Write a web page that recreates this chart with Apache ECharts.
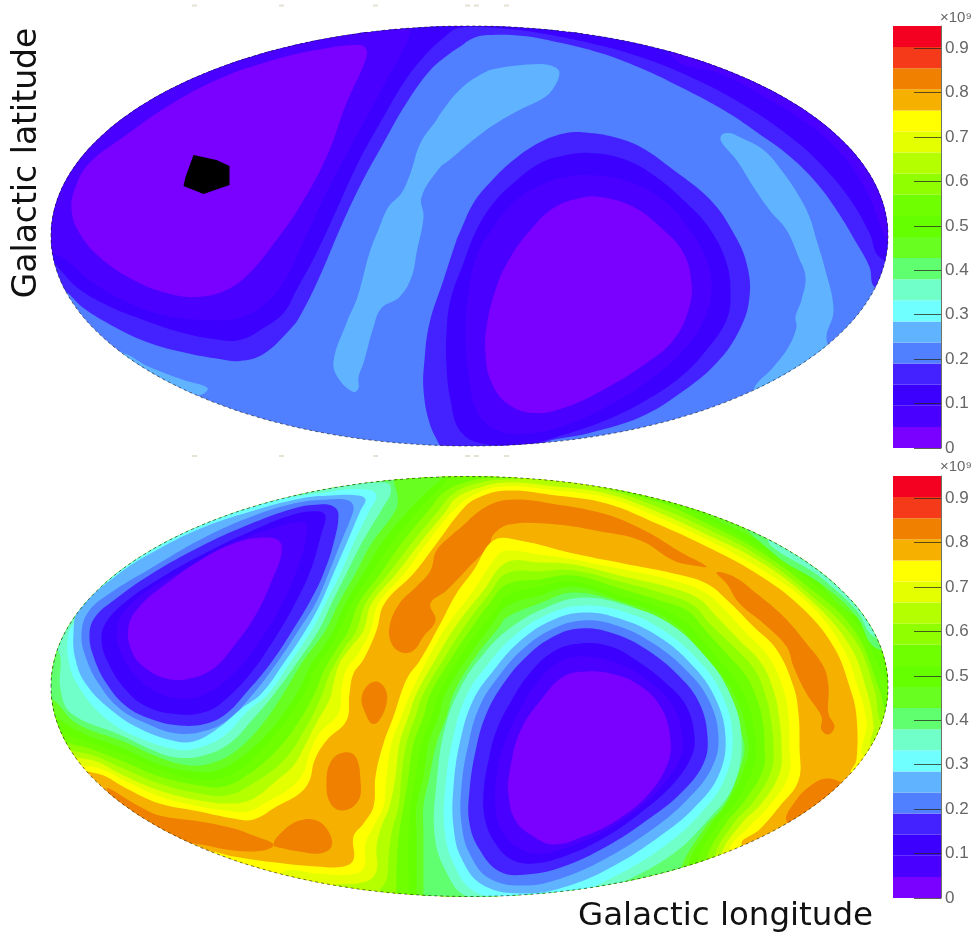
<!DOCTYPE html>
<html><head><meta charset="utf-8">
<style>html,body{margin:0;padding:0;background:#fff}#c{width:978px;height:938px}#c canvas{filter:blur(0.5px)}</style>
<script src="https://cdn.jsdelivr.net/npm/echarts@6/dist/echarts.min.js"></script>
</head><body><div id="c"></div>
<script>
// colour bar
const bandColors=['#7a00ff','#4a00ff','#3c00ff','#4422ff','#5080ff','#60b4ff','#70ffff','#70ffc8','#60ff70','#68ff20','#66ff00','#70ff00','#90ff00','#b4ff00','#e4ff00','#ffff00','#f5b000','#f08000','#f53a1a','#f40020'];
const bandStep=0.0475;
const barTicks=[0,0.1,0.2,0.3,0.4,0.5,0.6,0.7,0.8,0.9];
const mapHalfWidth=418.5, mapHalfHeight=210;
// top map contours, map units [x,y]
const t5a=[[-116,-156],[-130,-144],[-136,-126],[-123,-87],[-113,-64],[-108,-47],[-100,-17],[-90,9],[-81,29],[-68,43],[-59,63],[-49,93],[-33,116],[-30,121],[-10,146],[14,163],[30,168],[70,172],[85,169],[90,163],[84,148],[74,138],[50,126],[24,111],[0,93],[-20,76],[-30,68],[-48,39],[-46,19],[-53,-17],[-58,-41],[-70,-61],[-88,-72],[-96,-91],[-106,-127],[-111,-141],[-111,-152]];
const t5b=[[252,94],[267,76],[284,49],[300,26],[317,6],[329,-21],[336,-41],[332,-64],[326,-81],[327,-91],[319,-111],[304,-131],[284,-154],[290,-174],[370,-127],[357,-104],[364,-74],[355,-31],[347,-4],[340,19],[330,39],[314,63],[294,86],[270,99],[260,103],[252,101]];
const t5c=[[-350,-116],[-320,-131],[-286,-144],[-262,-152],[-270,-159],[-320,-151],[-360,-124]];
const t3a=[[-430,-45],[-406,-54],[-386,-72],[-353,-92],[-320,-107],[-283,-117],[-250,-123],[-230,-125],[-206,-118],[-180,-94],[-170,-81],[-150,-41],[-130,6],[-110,49],[-86,93],[-63,133],[-39,166],[-19,183],[-10,189],[4,198],[20,201],[54,200],[87,194],[131,183],[171,168],[211,149],[254,126],[287,104],[321,79],[347,53],[367,26],[387,-7],[400,-31],[405,-51],[430,-60],[430,220],[-430,220]];
const t3b=[[120,103],[97,103],[71,94],[44,76],[21,54],[4,33],[-10,3],[-13,-4],[-26,-44],[-40,-87],[-45,-124],[-46,-154],[-40,-187],[-30,-209],[-23,-224],[70,-224],[70,-209],[120,-197],[171,-181],[211,-157],[247,-127],[270,-94],[280,-61],[277,-27],[264,3],[241,36],[204,66],[171,89],[144,99]];
const t2a=[[-430,-20],[-416,-27],[-393,-51],[-363,-69],[-326,-84],[-290,-96],[-256,-103],[-230,-104],[-206,-92],[-186,-77],[-173,-54],[-153,-17],[-133,26],[-110,76],[-86,119],[-66,153],[-46,179],[-26,198],[-10,208],[37,207],[70,203],[120,193],[171,179],[221,159],[271,133],[321,99],[354,69],[381,36],[400,3],[410,-21],[440,-30],[430,220],[-430,220]];
const t2b=[[120,83],[97,81],[71,73],[44,53],[24,33],[7,6],[-6,-27],[-19,-64],[-23,-97],[-23,-131],[-19,-164],[-10,-194],[10,-207],[54,-209],[87,-201],[137,-184],[177,-164],[211,-141],[237,-114],[257,-84],[261,-57],[257,-27],[241,6],[217,33],[181,63],[151,78]];
const t1a=[[-430,-5],[-403,-24],[-376,-47],[-336,-69],[-296,-81],[-256,-84],[-230,-82],[-206,-69],[-189,-51],[-173,-21],[-153,23],[-130,69],[-106,113],[-83,156],[-61,198],[-60,213],[-60,225],[-430,225]];
const t1b=[[120,61],[97,59],[71,51],[44,33],[24,9],[7,-21],[-1,-57],[-4,-97],[-1,-137],[7,-174],[27,-194],[64,-197],[104,-186],[144,-167],[184,-141],[214,-114],[234,-84],[242,-54],[237,-24],[220,6],[197,33],[161,54]];
const t1c=[[204,178],[254,161],[304,134],[344,108],[377,76],[400,39],[412,8],[425,-14],[445,-14],[445,200],[204,215]];
const t0a=[[-103,186],[-110,191],[-153,186],[-203,174],[-253,156],[-303,129],[-346,99],[-380,73],[-394,49],[-398,26],[-390,3],[-370,-21],[-336,-44],[-303,-57],[-273,-61],[-243,-54],[-220,-37],[-193,-4],[-170,29],[-143,79],[-123,133],[-105,173]];
const t0b=[[131,39],[111,38],[84,28],[61,6],[41,-21],[27,-51],[17,-91],[16,-117],[21,-144],[37,-167],[64,-177],[97,-171],[137,-152],[177,-127],[204,-104],[219,-74],[222,-47],[214,-17],[194,6],[164,29]];
const maskedPatch=[[-276,81],[-253,76],[-240,70],[-240,51],[-266,42],[-286,50],[-284,59]];
// bottom map: peak blobs
const o1=[[-363,-102],[-330,-120],[-310,-129],[-270,-135],[-236,-142],[-216,-149],[-196,-158],[-206,-164],[-236,-164],[-263,-159],[-290,-154],[-336,-137]];
const o2=[[-196,-158],[-186,-144],[-170,-134],[-153,-134],[-141,-145],[-138,-160],[-150,-167],[-170,-165],[-186,-162]];
const o3=[[-126,-66],[-114,-70],[-109,-94],[-111,-114],[-126,-124],[-139,-117],[-143,-94],[-138,-74]];
const o4=[[-93,5],[-84,-3],[-83,-17],[-91,-35],[-98,-37],[-104,-27],[-108,-13],[-103,0]];
const o5=[[-68,34],[-78,43],[-80,60],[-70,83],[-53,100],[-39,116],[-33,136],[-16,153],[-10,158],[17,180],[44,187],[87,182],[137,172],[177,155],[210,135],[237,120],[224,121],[204,126],[171,146],[131,155],[87,162],[40,162],[24,152],[19,140],[0,120],[-23,96],[-39,83],[-34,66],[-46,50],[-56,36]];
const o6=[[247,114],[264,110],[287,93],[314,70],[337,43],[354,20],[359,0],[359,-27],[365,-40],[359,-48],[352,-43],[352,-30],[337,-7],[324,20],[317,40],[294,63],[270,83],[257,103]];
const o7=[[317,-135],[327,-113],[344,-97],[357,-92],[370,-95],[390,-107],[340,-147]];
// bottom map: north-west side contours
const a15=[[-430,-70],[-386,-84],[-366,-89],[-343,-102],[-310,-117],[-270,-125],[-236,-132],[-216,-133],[-193,-120],[-170,-107],[-160,-94],[-155,-74],[-143,-54],[-123,-34],[-120,-7],[-116,13],[-106,27],[-93,56],[-85,83],[-56,113],[-33,143],[-8,176],[7,188],[37,196],[87,191],[137,183],[187,163],[237,140],[287,113],[331,80],[364,40],[381,-3],[387,-30],[387,-73],[382,-88],[420,-110],[430,220],[-430,220]];
const a14=[[-430,-62],[-391,-78],[-370,-82],[-343,-95],[-310,-110],[-270,-120],[-236,-125],[-221,-125],[-200,-114],[-176,-99],[-165,-84],[-160,-67],[-150,-47],[-131,-27],[-128,-3],[-123,17],[-111,33],[-99,56],[-91,83],[-65,113],[-43,143],[-16,176],[7,193],[37,200],[87,196],[137,189],[187,170],[237,147],[287,120],[337,85],[372,41],[389,-3],[397,-37],[394,-70],[430,-80],[430,220],[-430,220]];
const a13=[[-430,-55],[-396,-70],[-373,-75],[-346,-89],[-310,-104],[-270,-114],[-236,-117],[-216,-112],[-193,-94],[-176,-79],[-165,-60],[-155,-40],[-140,-13],[-136,3],[-130,23],[-118,40],[-106,56],[-98,83],[-73,113],[-50,143],[-23,176],[-14,188],[7,198],[37,204],[87,200],[137,193],[187,175],[237,152],[287,127],[337,90],[379,43],[397,-3],[404,-40],[402,-60],[430,-70],[430,220],[-430,220]];
const a12=[[-430,-50],[-401,-63],[-376,-69],[-346,-82],[-310,-97],[-270,-107],[-243,-109],[-220,-99],[-186,-74],[-163,-40],[-148,-10],[-141,10],[-126,37],[-113,56],[-104,83],[-81,113],[-58,143],[-31,176],[-16,193],[7,203],[37,207],[87,205],[137,197],[187,180],[237,158],[287,132],[337,95],[385,47],[405,-3],[412,-37],[430,-45],[430,220],[-430,220]];
const a11=[[-430,-40],[-406,-55],[-380,-62],[-346,-75],[-310,-90],[-270,-99],[-246,-100],[-223,-89],[-193,-64],[-170,-34],[-155,-7],[-145,17],[-133,37],[-121,56],[-111,83],[-89,113],[-68,143],[-41,176],[-23,196],[7,207],[37,209],[70,212],[187,185],[237,163],[287,137],[337,101],[384,57],[410,-3],[417,-27],[430,-30],[430,220],[-430,220]];
const a10=[[-430,-30],[-409,-45],[-383,-55],[-346,-68],[-310,-83],[-273,-93],[-249,-92],[-226,-80],[-200,-55],[-180,-30],[-165,-7],[-153,20],[-141,37],[-130,56],[-118,83],[-98,113],[-78,143],[-51,176],[-30,198],[-13,213],[70,218],[137,207],[187,190],[237,168],[287,141],[337,108],[387,63],[417,6],[430,0],[430,220],[-430,220]];
const a9=[[-430,-15],[-414,-30],[-386,-47],[-346,-62],[-310,-78],[-276,-85],[-253,-84],[-230,-72],[-204,-49],[-186,-27],[-171,-4],[-158,23],[-148,37],[-136,56],[-124,83],[-106,113],[-88,143],[-61,176],[-39,198],[-23,213],[-20,226],[204,193],[237,172],[287,147],[337,115],[387,70],[430,70],[430,220],[-430,220]];
const edge8=[[270,176],[304,133],[354,101],[387,70],[404,40],[424,40],[430,190]];
const edge7=[[300,150],[354,107],[387,76],[404,50],[424,50],[430,190]];
const a8=[[-430,-13],[-417,-13],[-393,-37],[-346,-55],[-310,-71],[-280,-79],[-256,-76],[-233,-64],[-209,-40],[-186,-7],[-168,23],[-144,56],[-131,83],[-114,113],[-98,143],[-74,176],[-72,190],[-76,207],[-76,225],[-430,225]];
const a7=[[-430,45],[-411,35],[-409,-3],[-398,-27],[-350,-48],[-316,-64],[-293,-71],[-266,-69],[-240,-57],[-216,-32],[-195,-7],[-173,23],[-151,56],[-138,83],[-123,113],[-108,143],[-86,180],[-79,193],[-81,203],[-103,206],[-103,225],[-430,225]];
const a6=[[-430,95],[-393,72],[-401,53],[-401,26],[-391,0],[-366,-30],[-336,-49],[-293,-63],[-270,-61],[-245,-49],[-221,-24],[-201,-7],[-180,23],[-158,56],[-144,83],[-129,113],[-116,143],[-100,176],[-93,190],[-98,196],[-123,197],[-153,193],[-186,193],[-186,225],[-430,225]];
const a5=[[-391,76],[-396,53],[-394,27],[-384,3],[-359,-23],[-330,-42],[-293,-55],[-273,-54],[-249,-40],[-228,-22],[-208,-7],[-186,23],[-164,56],[-149,83],[-136,113],[-123,143],[-109,176],[-104,187],[-111,191],[-139,191],[-169,188],[-219,175],[-269,158],[-319,133],[-353,111]];
const a4=[[-116,180],[-121,186],[-141,187],[-176,183],[-223,168],[-269,147],[-319,118],[-360,93],[-381,75],[-388,53],[-384,30],[-371,3],[-350,-22],[-323,-37],[-293,-47],[-263,-44],[-240,-32],[-216,-7],[-193,23],[-171,56],[-154,83],[-141,113],[-129,143],[-118,170]];
const a3=[[-131,172],[-136,180],[-150,182],[-176,178],[-223,161],[-269,140],[-319,112],[-356,86],[-374,70],[-380,53],[-376,30],[-363,3],[-343,-20],[-320,-32],[-290,-39],[-263,-37],[-243,-27],[-224,-7],[-199,23],[-177,56],[-159,86],[-146,113],[-136,143]];
const a2=[[-144,170],[-150,175],[-176,172],[-219,155],[-269,131],[-313,106],[-346,83],[-364,63],[-368,46],[-361,23],[-344,-3],[-323,-20],[-290,-28],[-263,-25],[-244,-13],[-219,13],[-196,46],[-176,80],[-159,116],[-148,153]];
const a1=[[-164,163],[-173,164],[-203,156],[-243,141],[-289,115],[-326,93],[-348,71],[-353,53],[-348,33],[-333,10],[-310,-7],[-286,-12],[-263,-7],[-236,13],[-213,41],[-191,76],[-174,113],[-164,146]];
const a0=[[-190,145],[-203,149],[-230,145],[-263,130],[-303,103],[-330,80],[-341,60],[-338,36],[-326,20],[-303,8],[-280,8],[-256,18],[-236,40],[-213,73],[-196,110],[-188,133]];
// bottom map: south-east side contours
const b15=[[-300,-175],[-263,-165],[-236,-170],[-203,-175],[-153,-180],[-126,-180],[-116,-173],[-116,-150],[-106,-137],[-96,-120],[-94,-90],[-86,-57],[-76,-30],[-63,7],[-49,27],[-29,63],[-13,93],[4,116],[24,146],[50,146],[104,133],[154,123],[204,113],[237,103],[257,87],[284,60],[307,37],[324,0],[329,-27],[330,-60],[329,-94],[310,-120],[290,-143],[272,-158],[300,-190],[0,-240]];
const b14=[[-190,-205],[-186,-185],[-153,-187],[-120,-188],[-106,-182],[-104,-157],[-96,-140],[-86,-120],[-83,-90],[-78,-57],[-68,-30],[-59,-7],[-42,27],[-23,60],[4,96],[27,130],[37,136],[70,132],[104,127],[154,117],[200,107],[234,95],[254,78],[277,53],[299,30],[314,-3],[319,-30],[320,-60],[319,-90],[300,-119],[280,-140],[260,-164],[270,-190],[0,-235]];
const b13=[[-149,-202],[-103,-195],[-93,-184],[-93,-160],[-88,-140],[-80,-120],[-74,-90],[-70,-57],[-61,-30],[-53,-7],[-34,27],[-14,60],[14,96],[37,124],[70,124],[104,122],[154,110],[197,100],[229,88],[247,70],[270,46],[292,23],[305,-7],[310,-34],[312,-60],[310,-87],[292,-117],[272,-137],[252,-169],[260,-195],[0,-235],[-150,-220]];
const b12=[[-93,-225],[-93,-210],[-83,-193],[-81,-173],[-78,-147],[-71,-120],[-68,-90],[-63,-57],[-54,-30],[-46,-7],[-26,27],[-5,60],[20,93],[37,113],[70,115],[104,116],[154,104],[194,93],[224,81],[240,63],[264,40],[285,17],[297,-12],[302,-37],[304,-60],[302,-84],[285,-114],[264,-137],[245,-172],[255,-200],[0,-235]];
const b11=[[-73,-230],[-73,-213],[-73,-187],[-71,-153],[-66,-120],[-61,-90],[-56,-57],[-46,-30],[-39,-7],[-19,27],[3,60],[20,83],[37,102],[70,107],[104,111],[154,97],[190,86],[219,75],[236,56],[257,33],[277,10],[289,-17],[294,-40],[295,-60],[294,-82],[277,-112],[255,-139],[237,-175],[245,-205],[0,-235]];
const b10=[[-61,-230],[-61,-213],[-61,-187],[-61,-150],[-59,-120],[-54,-90],[-48,-57],[-38,-30],[-31,-7],[-11,27],[12,60],[26,76],[37,91],[70,100],[104,105],[154,90],[187,80],[214,66],[230,50],[250,26],[269,3],[280,-22],[285,-44],[287,-60],[285,-78],[269,-112],[247,-140],[227,-179],[235,-205],[0,-235]];
const b9=[[-53,-230],[-53,-213],[-53,-150],[-53,-120],[-46,-90],[-41,-57],[-31,-30],[-24,-7],[-3,27],[21,60],[37,80],[70,91],[104,100],[154,85],[184,75],[209,60],[225,43],[245,20],[262,-3],[272,-25],[277,-45],[279,-60],[277,-75],[260,-113],[239,-142],[217,-184],[225,-210],[0,-235]];
const b8=[[-46,-230],[-46,-213],[-46,-150],[-46,-120],[-40,-90],[-33,-57],[-23,-30],[-16,-7],[4,27],[30,60],[37,69],[70,83],[104,94],[155,83],[180,71],[204,56],[220,40],[240,15],[257,-7],[267,-29],[272,-47],[275,-60],[273,-74],[257,-115],[234,-143],[210,-187],[215,-212],[0,-235]];
const b7=[[114,89],[79,80],[40,58],[12,30],[-10,-3],[-25,-43],[-33,-97],[-35,-147],[-25,-182],[-3,-210],[57,-220],[107,-215],[155,-195],[204,-167],[237,-135],[264,-99],[272,-50],[259,-4],[235,31],[200,63],[157,81]];
const b6=[[114,81],[80,73],[45,51],[19,23],[-3,-9],[-16,-49],[-24,-99],[-25,-143],[-16,-177],[5,-205],[57,-215],[104,-207],[151,-187],[197,-158],[230,-128],[255,-93],[263,-50],[252,-7],[229,26],[194,56],[154,75]];
const b5=[[114,74],[82,66],[50,45],[24,16],[4,-13],[-9,-53],[-16,-100],[-16,-140],[-8,-172],[14,-199],[57,-207],[100,-199],[145,-179],[190,-150],[224,-122],[249,-89],[256,-50],[245,-10],[222,22],[189,50],[150,68]];
const b4=[[114,66],[84,58],[54,38],[29,10],[10,-20],[-1,-57],[-8,-100],[-8,-137],[0,-167],[20,-192],[57,-199],[97,-190],[140,-170],[184,-142],[217,-114],[242,-82],[249,-50],[239,-13],[217,16],[184,43],[147,61]];
const b3=[[111,58],[84,50],[57,30],[34,3],[17,-27],[7,-60],[0,-104],[0,-137],[10,-163],[30,-185],[57,-188],[94,-180],[137,-160],[177,-134],[211,-107],[234,-77],[238,-50],[230,-17],[210,10],[177,37],[144,53]];
const b2=[[111,43],[84,35],[60,13],[42,-14],[27,-44],[19,-74],[14,-107],[16,-135],[26,-157],[42,-173],[64,-177],[97,-169],[137,-150],[174,-124],[204,-97],[222,-70],[225,-50],[217,-20],[197,3],[167,26],[141,40]];
const b1=[[114,30],[87,23],[65,0],[47,-30],[34,-60],[27,-90],[26,-120],[32,-144],[50,-162],[70,-167],[100,-160],[140,-142],[175,-117],[200,-90],[212,-67],[213,-50],[204,-20],[182,3],[154,21]];
const b0=[[117,15],[94,10],[71,-14],[51,-44],[41,-80],[39,-107],[46,-134],[64,-150],[84,-158],[114,-150],[147,-134],[177,-110],[197,-80],[201,-54],[191,-20],[167,3],[141,13]];
// faint leftover graticule marks above and below the top map
const markLon=[-275,-188,-94,-2,7,37];
const markLat=[230.5,-220];

const topLayers=[[4,null],[5,t5a],[5,t5b],[5,t5c],[3,t3a],[3,t3b],[2,t2a],[2,t2b],[1,t1a],[1,t1b],[1,t1c],[0,t0a],[0,t0b],[-2,maskedPatch],[-1,null]];
const botLayers=[[16,null],[17,o1],[17,o2],[17,o3],[17,o4],[17,o5],[17,o6],[17,o7],
 [15,a15],[15,b15],[14,a14],[14,b14],[13,a13],[13,b13],[12,a12],[12,b12],[11,a11],[11,b11],[10,a10],[10,b10],[9,a9],[9,b9],
 [8,edge8],[7,edge7],[8,a8],[8,b8],[7,a7],[7,b7],[6,a6],[6,b6],[5,a5],[5,b5],[4,a4],[4,b4],[3,a3],[3,b3],[2,a2],[2,b2],[1,a1],[1,b1],[0,a0],[0,b0],[-1,null]];

function mapSeries(layers,idx){
  return {type:'custom',xAxisIndex:idx,yAxisIndex:idx,silent:true,clip:false,z:2,
    data:layers.map((l,i)=>[i,l[0]]),
    encode:{x:0,y:1},
    renderItem(params,api){
      const [band,pts]=layers[params.dataIndex];
      const c=api.coord([0,0]);
      const sz=api.size([2*mapHalfWidth,2*mapHalfHeight]);
      const ell={cx:c[0],cy:c[1],rx:sz[0]/2,ry:sz[1]/2};
      if(pts===null){
        if(band===-1) return {type:'ellipse',shape:ell,style:{fill:'none',stroke:'rgba(25,25,25,0.6)',lineWidth:1,lineDash:[3,3]}};
        return {type:'ellipse',shape:ell,style:{fill:bandColors[band]}};
      }
      return {type:'polygon',
        shape:{points:pts.map(p=>api.coord(p)),smooth:band===-2?0:0.4},
        clipPath:{type:'ellipse',shape:ell},
        style:{fill:band===-2?'#000':bandColors[band]}};
    }};
}
function barSeries(idx){
  return bandColors.map((col,i)=>({type:'bar',stack:'cb'+idx,xAxisIndex:idx,yAxisIndex:idx,barWidth:'100%',silent:true,
    data:[bandStep],itemStyle:{color:col},animation:false}));
}
function markSeries(idx){
  const d=[];
  markLat.forEach(y=>markLon.forEach(x=>d.push([x,y])));
  return {type:'scatter',xAxisIndex:idx,yAxisIndex:idx,clip:false,silent:true,symbol:'rect',symbolSize:[5,2],
    itemStyle:{color:'#ded9c8'},data:d};
}
const mapX={type:'value',min:-mapHalfWidth,max:mapHalfWidth,show:false};
const mapY={type:'value',min:-mapHalfHeight,max:mapHalfHeight,show:false};
const barX={type:'category',data:['band'],show:false};
const barY={type:'value',min:0,max:bandStep*20,position:'right',z:10,
  axisLine:{show:true,lineStyle:{color:'rgba(60,70,50,0.75)',width:1}},
  splitLine:{show:false},
  axisTick:{show:true,inside:true,length:27,customValues:barTicks,lineStyle:{color:'rgba(40,40,30,0.75)',width:1}},
  axisLabel:{show:true,customValues:barTicks,margin:4,fontFamily:'Liberation Sans',fontSize:17,color:'#666',formatter:v=>String(v)}};

const chart=echarts.init(document.getElementById('c'),null,{renderer:'canvas'});
chart.setOption({
  animation:false,backgroundColor:'#fff',
  grid:[
    {left:51,width:837,top:26,height:420},
    {left:51,width:837,top:476.5,height:420},
    {left:893,width:48,top:26,height:422},
    {left:893,width:48,top:476,height:422}],
  xAxis:[{...mapX,gridIndex:0},{...mapX,gridIndex:1},{...barX,gridIndex:2},{...barX,gridIndex:3}],
  yAxis:[{...mapY,gridIndex:0},{...mapY,gridIndex:1},{...barY,gridIndex:2},{...barY,gridIndex:3}],
  series:[mapSeries(topLayers,0),mapSeries(botLayers,1),markSeries(0),
    ...barSeries(2),...barSeries(3)],
  graphic:[
    {type:'text',x:27,y:163,rotation:Math.PI/2,style:{text:'Galactic latitude',font:'33px "DejaVu Sans"',fill:'#111',textAlign:'center',textVerticalAlign:'middle'}},
    {type:'text',x:578,y:917,style:{text:'Galactic longitude',font:'32.5px "DejaVu Sans"',fill:'#111',textAlign:'left',textVerticalAlign:'middle'}},
    {type:'text',x:940,y:18,style:{text:'×10⁹',font:'15px "Liberation Sans"',fill:'#666',textAlign:'left',textVerticalAlign:'middle'}},
    {type:'text',x:940,y:467,style:{text:'×10⁹',font:'15px "Liberation Sans"',fill:'#666',textAlign:'left',textVerticalAlign:'middle'}}
  ]
});
</script></body></html>
